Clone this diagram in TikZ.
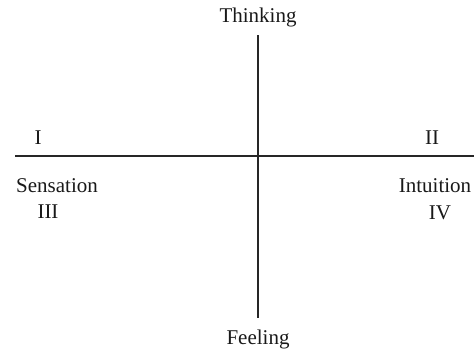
\documentclass[tikz,border=0pt]{standalone}
\usepackage{fontspec}
\setmainfont{Liberation Serif}
\begin{document}
\begin{tikzpicture}[x=1pt,y=-1pt,
  lbl/.style={font=\fontsize{21}{23}\selectfont, inner sep=0pt, text=black!90},
  axis/.style={line width=1.6pt, black!85}]
\useasboundingbox (0,0) rectangle (474,356);
\node[lbl] (think) at (258,17) {Thinking};
\node[lbl] (feel) at (258,339) {Feeling};
\node[lbl] (one) at (38,138) {I};
\node[lbl] (two) at (432,138) {II};
\node[lbl] (sens) at (57,186) {Sensation};
\node[lbl] (three) at (48,212) {III};
\node[lbl] (intu) at (435,186) {Intuition};
\node[lbl] (four) at (440,213) {IV};
\coordinate (top) at (258,35);
\coordinate (bot) at (258,318);
\coordinate (left) at (15,156);
\coordinate (right) at (474,156);
\draw[axis] (top) -- (bot);
\draw[axis] (left) -- (right);
\end{tikzpicture}
\end{document}
